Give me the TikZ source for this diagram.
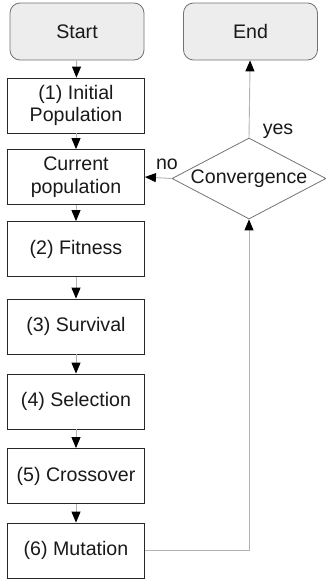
\documentclass[tikz,border=0pt]{standalone}
\usepackage{fontspec}
\setmainfont{Liberation Sans}
\usetikzlibrary{shapes.geometric,arrows.meta}
\begin{document}
\begin{tikzpicture}[x=1pt,y=-1pt,
  every node/.style={font=\fontsize{19.6}{22.5}\selectfont, text=black!90, inner sep=0pt, align=center},
  term/.style={draw=black!55, fill=black!7, rounded corners=10pt, line width=0.8pt, minimum width=134pt, minimum height=57pt},
  proc/.style={draw=black!85, line width=0.8pt, minimum width=137pt, minimum height=55pt},
  dec/.style={diamond, draw=black!55, line width=0.8pt, minimum width=154pt, minimum height=81pt},
  conn/.style={draw=black!30, line width=0.9pt, -{Triangle[width=9pt,length=11pt,fill=black,color=black]}}
]
\useasboundingbox (0,0) rectangle (326,581);
\node[term] (start) at (77,31.5) {Start};
\node[term] (end) at (250.5,31.5) {End};
\node[proc] (init) at (76,105.5) {(1) Initial\\Population};
\node[proc] (cur) at (76,177) {Current\\population};
\node[dec] (conv) at (249,178.5) {};
\node (convtext) at (249,178.5) {Convergence};
\node[proc] (fit) at (76,249) {(2) Fitness};
\node[proc] (surv) at (76,326.5) {(3) Survival};
\node[proc] (sel) at (76,401.5) {(4) Selection};
\node[proc] (cross) at (76,476) {(5) Crossover};
\node[proc] (mut) at (76,550.5) {(6) Mutation};
\draw[conn] (start) -- (init);
\draw[conn] (init) -- (cur);
\draw[conn] (cur) -- (fit);
\draw[conn] (fit) -- (surv);
\draw[conn] (surv) -- (sel);
\draw[conn] (sel) -- (cross);
\draw[conn] (cross) -- (mut);
\draw[conn] (mut.east) -| (conv.south);
\draw[conn] (conv.north) -- (end);
\draw[conn] (conv.west) -- (cur.east);
\node (yes) at (278,131) {yes};
\node (no) at (167,164) {no};
\end{tikzpicture}
\end{document}
